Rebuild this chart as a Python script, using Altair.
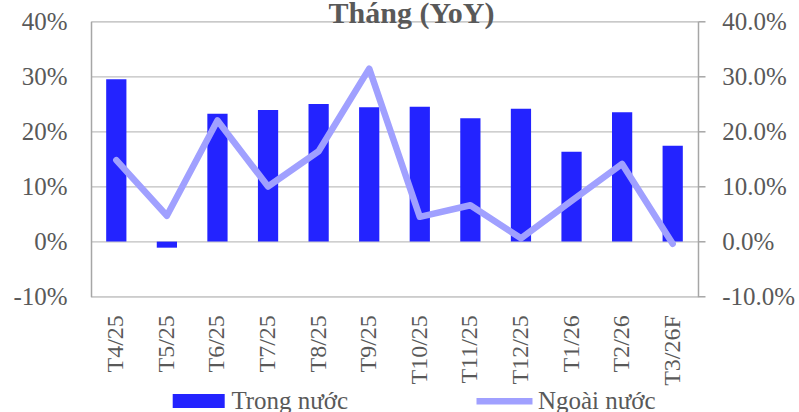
import altair as alt
import pandas as pd

months = ["T4/25", "T5/25", "T6/25", "T7/25", "T8/25", "T9/25",
          "T10/25", "T11/25", "T12/25", "T1/26", "T2/26", "T3/26F"]
trong_nuoc = [29.5, -1.1, 23.2, 23.9, 25.0, 24.4, 24.5, 22.4, 24.1, 16.3, 23.5, 17.4]
ngoai_nuoc = [14.8, 4.7, 22.0, 10.0, 16.4, 31.4, 4.5, 6.6, 0.6, 7.4, 14.1, -0.4]
y_ticks = [-10, 0, 10, 20, 30, 40]

df = pd.DataFrame({"month": months, "trong": trong_nuoc, "ngoai": ngoai_nuoc})

FONT = "Liberation Serif"
GRAY = "#595959"
BAR = "#2323FF"
LINE = "#A0A0FF"

x = alt.X(
    "month:N", sort=months, title=None,
    scale=alt.Scale(paddingInner=0.6, paddingOuter=0.3),
    axis=alt.Axis(labelAngle=-90, labelFont=FONT, labelFontSize=24, labelColor=GRAY,
                  ticks=False, domain=False, grid=False, labelPadding=18),
)

y_left = alt.Y(
    "trong:Q", title=None,
    scale=alt.Scale(domain=[-10, 40], nice=False, zero=False),
    axis=alt.Axis(values=y_ticks, labelExpr="datum.value + '%'", ticks=False,
                  labelPadding=24, labelFont=FONT, labelFontSize=25, labelColor=GRAY,
                  grid=True, gridColor="#BFBFBF", gridWidth=1.3,
                  domainColor="#A6A6A6", domainWidth=1.5),
)

y_right = alt.Y(
    "ngoai:Q", title=None,
    scale=alt.Scale(domain=[-10, 40], nice=False, zero=False),
    axis=alt.Axis(orient="right", values=y_ticks, labelExpr="datum.value + '.0%'",
                  ticks=True, tickSize=7, tickColor="#A6A6A6", tickWidth=1.5,
                  labelPadding=16.7, labelFont=FONT, labelFontSize=25, labelColor=GRAY,
                  grid=False, domainColor="#A6A6A6", domainWidth=1.5),
)

bars = alt.Chart(df).transform_calculate(s1="'Trong nước'").mark_bar(opacity=1).encode(
    x=x, y=y_left,
    fill=alt.Fill("s1:N", scale=alt.Scale(range=[BAR]),
                  legend=alt.Legend(title=None, orient="none", legendX=81.7, legendY=353.7,
                                    symbolType="M-1,-0.27H1V0.27H-1Z", symbolSize=2704,
                                    symbolStrokeWidth=0, symbolOpacity=1, padding=0,
                                    labelFont=FONT, labelFontSize=25, labelColor=GRAY,
                                    labelOffset=6.7)),
)

line = alt.Chart(df).transform_calculate(s2="'Ngoài nước'").mark_line(
    strokeWidth=6.5, strokeCap="round", strokeJoin="round"
).encode(
    x=x, y=y_right,
    stroke=alt.Stroke("s2:N", scale=alt.Scale(range=[LINE]),
                      legend=alt.Legend(title=None, orient="none", legendX=382, legendY=348.4,
                                        symbolType="stroke", symbolSize=3136,
                                        symbolStrokeWidth=6.5, padding=0,
                                        labelFont=FONT, labelFontSize=25, labelColor=GRAY,
                                        labelOffset=2)),
)

chart = alt.layer(bars, line).resolve_scale(
    y="independent", fill="independent", stroke="independent"
).properties(
    width=607, height=275.4,
    autosize=alt.AutoSizeParams(type="none"),
    padding={"left": 91, "top": 21.3, "right": 101, "bottom": 115},
    title=alt.TitleParams("Tháng (YoY)", font=FONT, fontSize=30, fontWeight="bold",
                          color=GRAY, anchor="middle", dx=17, baseline="alphabetic",
                          offset=0, dy=44),
).configure_view(stroke=None).configure(background="white")

chart.save("out.html", embed_options={"renderer": "svg", "actions": False})
